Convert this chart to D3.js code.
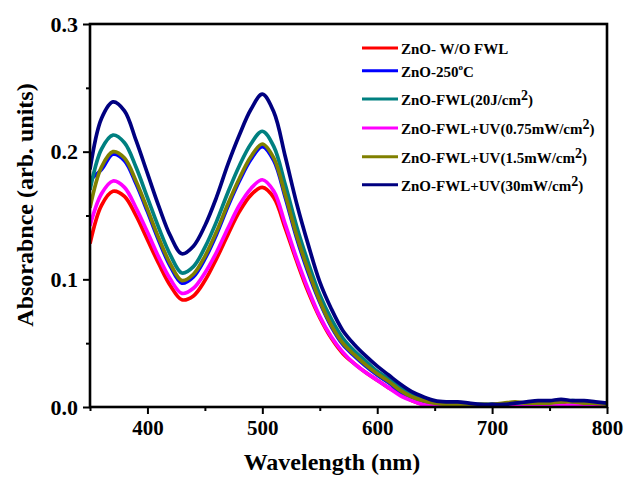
<!DOCTYPE html>
<html>
<head>
<meta charset="utf-8">
<script src="https://cdn.jsdelivr.net/npm/d3@7"></script>
<style>
  body { margin: 0; background: #fff; }
  svg { display: block; }
  text { font-family: "Liberation Serif", "Times New Roman", serif; font-weight: bold; fill: #000; }
</style>
</head>
<body>
<svg id="chart" width="627" height="477"></svg>
<script>
// Absorbance spectra, sampled every 10 nm
const wavelength = [350,360,370,380,390,400,410,420,430,440,450,460,470,480,490,500,510,520,530,540,
  550,560,570,580,590,600,610,620,630,640,650,660,670,680,690,700,710,720,730,740,750,760,770,780,790,800];

const absWithoutFWL = [0.128,0.158,0.169,0.165,0.150,0.131,0.112,0.095,0.084,0.087,0.099,0.116,0.135,0.153,0.166,0.172,0.164,0.140,0.114,0.090,
  0.070,0.054,0.042,0.034,0.027,0.021,0.015,0.010,0.005,0.002,0.001,0.001,0.000,0.001,0.000,0.001,0.001,0.001,0.002,0.001,0.002,0.002,0.001,0.002,0.001,0.001];
const abs250C = [0.178,0.186,0.198,0.193,0.175,0.153,0.130,0.110,0.097,0.102,0.116,0.135,0.157,0.177,0.194,0.204,0.193,0.164,0.132,0.105,
  0.082,0.063,0.049,0.040,0.032,0.025,0.019,0.012,0.007,0.004,0.003,0.002,0.002,0.002,0.001,0.002,0.002,0.003,0.003,0.004,0.004,0.005,0.004,0.004,0.003,0.003];
const absFWL20J = [0.170,0.202,0.213,0.207,0.188,0.164,0.140,0.119,0.105,0.110,0.125,0.145,0.168,0.189,0.206,0.216,0.204,0.174,0.141,0.113,
  0.088,0.069,0.054,0.044,0.036,0.028,0.022,0.015,0.010,0.006,0.004,0.003,0.002,0.002,0.002,0.002,0.002,0.003,0.003,0.004,0.004,0.004,0.005,0.004,0.003,0.003];
const absUV075 = [0.142,0.167,0.177,0.172,0.156,0.137,0.117,0.100,0.089,0.093,0.105,0.121,0.140,0.158,0.171,0.178,0.169,0.143,0.116,0.092,
  0.071,0.055,0.043,0.034,0.027,0.021,0.015,0.009,0.005,0.002,0.001,0.000,0.000,0.001,0.000,0.000,0.001,0.000,0.001,0.001,0.001,0.001,0.001,0.001,0.000,0.001];
const absUV15 = [0.156,0.188,0.200,0.195,0.177,0.155,0.132,0.112,0.099,0.104,0.118,0.137,0.159,0.179,0.196,0.206,0.195,0.166,0.134,0.107,
  0.083,0.064,0.050,0.041,0.033,0.026,0.020,0.013,0.008,0.005,0.003,0.002,0.002,0.001,0.002,0.002,0.003,0.004,0.003,0.003,0.003,0.004,0.004,0.003,0.003,0.002];
const absUV30 = [0.186,0.226,0.239,0.232,0.209,0.183,0.157,0.134,0.120,0.126,0.142,0.164,0.190,0.213,0.233,0.245,0.231,0.196,0.159,0.127,
  0.098,0.077,0.060,0.049,0.040,0.032,0.025,0.018,0.012,0.008,0.005,0.004,0.004,0.003,0.002,0.002,0.002,0.003,0.004,0.005,0.005,0.006,0.005,0.005,0.004,0.003];

// Legend entries: [main text, superscript, trailing text]
const seriesLabels = [
  ["ZnO- W/O FWL", "", ""],
  ["ZnO-250", "o", "C"],
  ["ZnO-FWL(20J/cm", "2", ")"],
  ["ZnO-FWL+UV(0.75mW/cm", "2", ")"],
  ["ZnO-FWL+UV(1.5mW/cm", "2", ")"],
  ["ZnO-FWL+UV(30mW/cm", "2", ")"]
];
const seriesValues = [absWithoutFWL, abs250C, absFWL20J, absUV075, absUV15, absUV30];
const seriesColors = ["#ff0000", "#0000ff", "#008080", "#ff00ff", "#808000", "#000080"];

const xMajorTicks = [400, 500, 600, 700, 800];
const xMinorTicks = [350, 450, 550, 650, 750];
const yMajorTicks = [0.0, 0.1, 0.2, 0.3];
const yMinorTicks = [0.05, 0.15, 0.25];

const svg = d3.select("#chart");
const plot = { left: 90, right: 607, top: 24, bottom: 407 };

const x = d3.scaleLinear().domain([350, 800]).range([plot.left, plot.right]);
const y = d3.scaleLinear().domain([0, 0.3]).range([plot.bottom, plot.top]);

svg.append("defs").append("clipPath").attr("id", "plotClip")
  .append("rect")
  .attr("x", plot.left).attr("y", plot.top - 2)
  .attr("width", plot.right - plot.left).attr("height", plot.bottom - plot.top + 2);

// spectra
const line = d3.line()
  .x(d => x(d[0]))
  .y(d => y(d[1]))
  .curve(d3.curveCatmullRom.alpha(0.5));

const curves = svg.append("g").attr("clip-path", "url(#plotClip)");
seriesValues.forEach((vals, i) => {
  curves.append("path")
    .datum(wavelength.map((w, j) => [w, vals[j]]))
    .attr("fill", "none")
    .attr("stroke", seriesColors[i])
    .attr("stroke-width", 3.7)
    .attr("stroke-linejoin", "round")
    .attr("d", line);
});

// axes
function styleAxis(g, size) {
  g.select(".domain").remove();
  g.selectAll(".tick line").attr("stroke", "#000").attr("stroke-width", 2);
  g.selectAll(".tick text")
    .attr("font-family", "'Liberation Serif', 'Times New Roman', serif")
    .attr("font-weight", "bold")
    .attr("font-size", size);
  g.attr("font-family", null).attr("font-size", null);
}

svg.append("g")
  .attr("transform", `translate(0,${plot.bottom})`)
  .call(d3.axisBottom(x).tickValues(xMinorTicks).tickSize(4).tickFormat(""))
  .call(g => styleAxis(g, 21));
svg.append("g")
  .attr("transform", `translate(0,${plot.bottom})`)
  .call(d3.axisBottom(x).tickValues(xMajorTicks).tickSize(7).tickPadding(6).tickFormat(d3.format("d")))
  .call(g => styleAxis(g, 21));

svg.append("g")
  .attr("transform", `translate(${plot.left},0)`)
  .call(d3.axisLeft(y).tickValues(yMinorTicks).tickSize(4).tickFormat(""))
  .call(g => styleAxis(g, 22));
svg.append("g")
  .attr("transform", `translate(${plot.left},0)`)
  .call(d3.axisLeft(y).tickValues(yMajorTicks).tickSize(7).tickPadding(5).tickFormat(d3.format(".1f")))
  .call(g => styleAxis(g, 22));

// frame
svg.append("rect")
  .attr("x", plot.left).attr("y", plot.top)
  .attr("width", plot.right - plot.left).attr("height", plot.bottom - plot.top)
  .attr("fill", "none").attr("stroke", "#000").attr("stroke-width", 2.6);

// axis titles
svg.append("text")
  .attr("x", 332).attr("y", 470)
  .attr("text-anchor", "middle")
  .attr("font-size", 24)
  .text("Wavelength (nm)");

svg.append("text")
  .attr("transform", "translate(33,205) rotate(-90)")
  .attr("text-anchor", "middle")
  .attr("font-size", 24)
  .text("Absorabnce (arb. units)");

// legend
const legendBaselines = [54, 76.7, 105, 134, 162.7, 190.7];
const legend = svg.append("g");
seriesLabels.forEach((lab, i) => {
  const by = legendBaselines[i];
  legend.append("line")
    .attr("x1", 362).attr("x2", 398)
    .attr("y1", by - 6).attr("y2", by - 6)
    .attr("stroke", seriesColors[i]).attr("stroke-width", 3);
  const t = legend.append("text")
    .attr("x", 401).attr("y", by)
    .attr("font-size", 15);
  t.append("tspan").text(lab[0]);
  if (lab[1]) {
    const small = lab[1] === "o";
    t.append("tspan")
      .attr("font-size", small ? 9 : 14)
      .attr("dy", small ? -7 : -5)
      .text(lab[1]);
    t.append("tspan")
      .attr("dy", small ? 7 : 5)
      .text(lab[2]);
  }
});
</script>
</body>
</html>
